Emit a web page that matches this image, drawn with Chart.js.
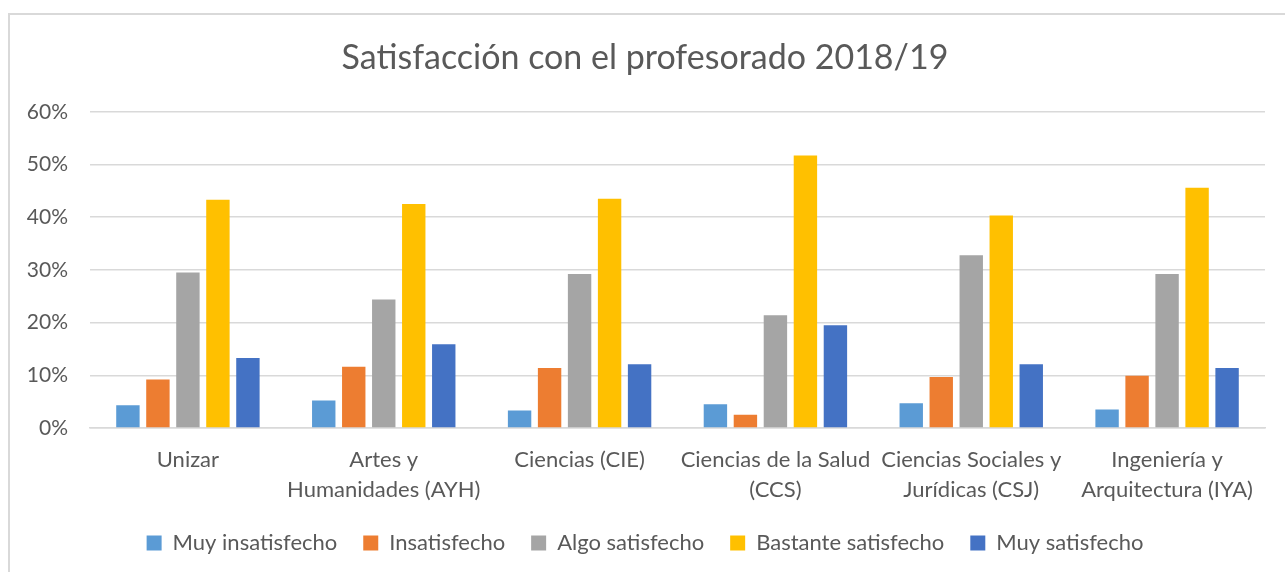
<!DOCTYPE html>
<html>
<head>
<meta charset="utf-8">
<script src="https://cdn.jsdelivr.net/npm/chart.js@4"></script>
<style>
  html, body { margin: 0; padding: 0; background: #fff; overflow: hidden; }
  #frame {
    position: absolute; left: 8px; top: 13px;
    width: 1300px; height: 600px;
    border: 2px solid #d9d9d9; box-sizing: border-box;
  }
  #wrap { position: absolute; left: 0; top: 0; width: 1285px; height: 572px; }
</style>
</head>
<body>
<div id="frame"></div>
<div id="wrap"><canvas id="chart"></canvas></div>
<script>
// ── Data (percentages) ───────────────────────────────────────
const categories = [
  "Unizar",
  ["Artes y", "Humanidades (AYH)"],
  "Ciencias (CIE)",
  ["Ciencias de la Salud", "(CCS)"],
  ["Ciencias Sociales y", "Jurídicas (CSJ)"],
  ["Ingeniería y", "Arquitectura (IYA)"],
];

const muyInsatisfecho    = [4.3, 5.2, 3.3, 4.5, 4.7, 3.5];
const insatisfecho       = [9.2, 11.6, 11.4, 2.5, 9.7, 9.9];
const algoSatisfecho     = [29.5, 24.4, 29.2, 21.4, 32.8, 29.2];
const bastanteSatisfecho = [43.3, 42.5, 43.5, 51.7, 40.3, 45.6];
const muySatisfecho      = [13.3, 15.9, 12.1, 19.5, 12.1, 11.4];

const yTicks = [0, 10, 20, 30, 40, 50, 60];

const TEXT = "#595959";
const FONT = "Lato, 'Noto Sans', sans-serif";

const series = [
  { label: "Muy insatisfecho",    data: muyInsatisfecho,    color: "#5B9BD5" },
  { label: "Insatisfecho",        data: insatisfecho,       color: "#ED7D31" },
  { label: "Algo satisfecho",     data: algoSatisfecho,     color: "#A5A5A5" },
  { label: "Bastante satisfecho", data: bastanteSatisfecho, color: "#FFC000" },
  { label: "Muy satisfecho",      data: muySatisfecho,      color: "#4472C4" },
];

new Chart(document.getElementById("chart"), {
  type: "bar",
  data: {
    labels: categories,
    datasets: series.map((s) => ({
      label: s.label,
      data: s.data,
      backgroundColor: s.color,
      borderColor: s.color,
      borderWidth: 0,
      categoryPercentage: 0.766,
      barPercentage: 0.78,
    })),
  },
  options: {
    responsive: true,
    maintainAspectRatio: false,
    animation: false,
    layout: { padding: { left: 25, right: 20, top: 38, bottom: 8 } },
    plugins: {
      title: {
        display: true,
        text: "Satisfacción con el profesorado 2018/19",
        color: TEXT,
        font: { size: 34, family: FONT, weight: "normal" },
        padding: { top: 0, bottom: 33 },
      },
      legend: {
        position: "bottom",
        labels: {
          color: TEXT,
          font: { size: 22, family: FONT },
          boxWidth: 15,
          boxHeight: 15,
          padding: 26,
        },
      },
      tooltip: { enabled: false },
    },
    scales: {
      x: {
        afterFit: (scale) => { scale.height = 78; },
        grid: { display: false },
        border: { color: "#d9d9d9", width: 1.5 },
        ticks: {
          color: TEXT,
          font: { size: 22, family: FONT, lineHeight: 1.36 },
          maxRotation: 0,
          autoSkip: false,
          padding: 9,
        },
      },
      y: {
        min: 0,
        max: 60,
        afterFit: (scale) => { scale.width = 65; },
        afterBuildTicks: (scale) => { scale.ticks = yTicks.map((v) => ({ value: v })); },
        grid: { color: "#d9d9d9", lineWidth: 1.5, drawTicks: false },
        border: { display: false },
        ticks: {
          color: TEXT,
          font: { size: 21, family: FONT },
          padding: 22,
          callback: (v) => v + "%",
        },
      },
    },
  },
});
</script>
</body>
</html>
